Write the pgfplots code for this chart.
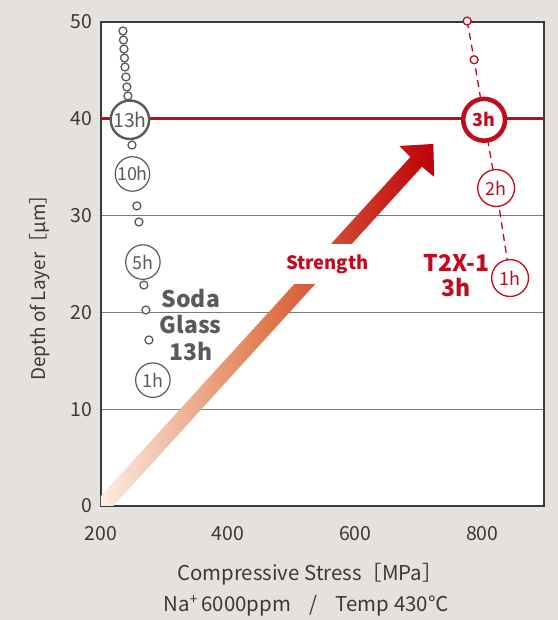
\documentclass[border=0pt]{standalone}
\usepackage{pgfplots}
\pgfplotsset{compat=1.18}
\usepackage{fontspec}
\setmainfont{Noto Sans CJK JP}
\definecolor{bg}{HTML}{E5E1DE}
\definecolor{txt}{HTML}{3A3A3A}
\definecolor{soda}{HTML}{5A5A5A}
\definecolor{tred}{HTML}{C10A1E}
\definecolor{gridc}{HTML}{7A7A7A}
\definecolor{arrlight}{HTML}{FDEDE3}
\definecolor{arrmid}{HTML}{DF7A4E}
\definecolor{arrdark}{HTML}{BE0008}
\begin{document}
\begin{tikzpicture}
\fill[bg] (-101bp,-114bp) rectangle (457bp,506bp);
\begin{axis}[
  at={(0,0)}, anchor=south west,
  scale only axis, width=443bp, height=484bp,
  xmin=200, xmax=897, ymin=0, ymax=50,
  clip=false,
  xtick={200,400,600,800}, ytick={0,10,20,30,40,50},
  major tick length=0pt,
  ymajorgrids, grid style={gridc, line width=0.9bp},
  axis line style={txt, line width=1.4bp},
  axis background/.style={fill=white},
  /pgf/number format/assume math mode=true,
  ticklabel style={font=\fontsize{19.5}{19.5}\selectfont, text=txt},
  xticklabel style={yshift=-17bp},
  yticklabel style={xshift=-5bp},
]
% strength arrow
\shade[left color=arrlight, right color=arrdark, middle color=arrmid]
  (axis cs:200,0) -- (axis cs:200,1.05) -- (axis cs:686.7,36.05) -- (axis cs:669.4,37.2)
  -- (axis cs:722.8,37.4) -- (axis cs:724.3,34.0) -- (axis cs:705.0,35.05) -- (axis cs:219.3,0) -- cycle;
\node[fill=white, inner xsep=3bp, inner ysep=10bp, text=tred, font=\fontsize{18.5}{18.5}\selectfont\bfseries] at (axis cs:556,25.0) {Strength};
% 40 um line
\addplot[tred, line width=2.6bp] coordinates {(200,40) (897,40)};
% T2X-1 dashed path
\addplot[tred, line width=1.3bp, dash pattern=on 7bp off 5bp] coordinates {(776.1,50.1) (787.1,46.1) (802.8,39.9) (821.7,32.85) (843.6,23.55)};
% T2X small circles
\addplot[only marks, mark=*, mark size=4, tred, line width=1.3bp, mark options={fill=white}] coordinates {(776.1,50.1) (787.1,46.1)};
% T2X labeled circles
\addplot[only marks, mark=*, mark size=18.5, tred, line width=1.3bp, mark options={fill=white},
  point meta=explicit symbolic, nodes near coords,
  every node near coord/.append style={anchor=center, text=tred, font=\fontsize{18}{18}\selectfont}]
  coordinates {(821.7,32.85) [2h] (843.6,23.55) [1h]};
\addplot[only marks, mark=*, mark size=21, tred, line width=4.5bp, mark options={fill=white},
  point meta=explicit symbolic, nodes near coords,
  every node near coord/.append style={anchor=center, text=tred, font=\fontsize{18}{18}\selectfont\bfseries}]
  coordinates {(802.8,39.9) [3h]};
% Soda glass small circles
\addplot[only marks, mark=*, mark size=4, soda, line width=1.3bp, mark options={fill=white}] coordinates {
  (234.5,49.07) (235.3,48.14) (236.1,47.21) (236.9,46.28) (237.7,45.35) (239.2,44.32) (240.8,43.29) (242.4,42.36)
  (248.7,37.29) (256.5,31.0) (259.7,29.34) (267.5,22.83) (270.6,20.25) (275.4,17.15)};
\addplot[only marks, mark=*, mark size=17.3, soda, line width=1.2bp, mark options={fill=white},
  point meta=explicit symbolic, nodes near coords,
  every node near coord/.append style={anchor=center, text=soda, font=\fontsize{18}{18}\selectfont}]
  coordinates {(249.5,34.3) [10h] (265.9,25.2) [5h] (281.6,13.0) [1h]};
\addplot[only marks, mark=*, mark size=19.3, soda, line width=2.4bp, mark options={fill=white},
  point meta=explicit symbolic, nodes near coords,
  every node near coord/.append style={anchor=center, text=soda, font=\fontsize{19.5}{19.5}\selectfont}]
  coordinates {(245.5,39.9) [13h]};
% text labels
\node[align=center, text=soda, font=\fontsize{23}{27}\selectfont\bfseries] at (axis cs:341.3,18.7) {Soda\\Glass\\13h};
\node[align=center, text=tred, font=\fontsize{23}{26}\selectfont\bfseries] at (axis cs:759,23.8) {T2X-1\\3h};
\end{axis}
\node[text=txt, font=\fontsize{20.5}{20.5}\selectfont] at (209bp,-68bp) {Compressive Stress［MPa］};
\node[text=txt, font=\fontsize{20.5}{20.5}\selectfont] at (205bp,-100bp) {Na\textsuperscript{+}\,6000ppm\hspace{0.9em}/\hspace{0.9em}Temp 430℃};
\node[text=txt, rotate=90, font=\fontsize{19}{19}\selectfont] at (-61bp,223bp) {Depth of Layer［μm］};
\end{tikzpicture}
\end{document}
